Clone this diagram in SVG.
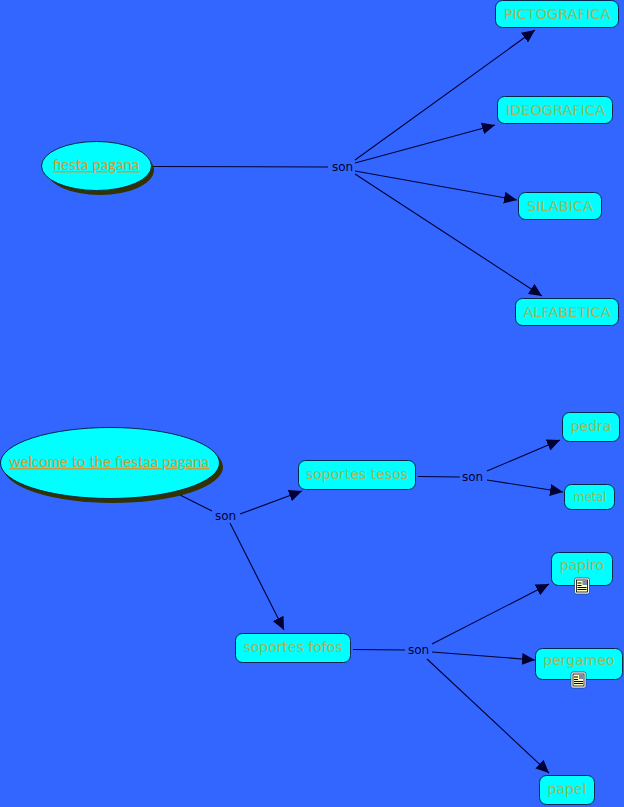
<svg xmlns="http://www.w3.org/2000/svg" width="624" height="807" viewBox="0 0 624 807">
<style>
.n{fill:#00ffff;stroke:#06264a;stroke-width:1}
.s{fill:#333300;stroke:none}
.t{font-family:"DejaVu Sans",Verdana,sans-serif;font-size:14.500px;fill:#9fb75c;text-anchor:middle}
.lc{font-size:14px}
.e{font-family:"Lato","Open Sans",sans-serif;font-size:15px;fill:#c8a03c;text-anchor:middle;text-decoration:underline}
.l{font-family:"DejaVu Sans",Verdana,sans-serif;font-size:12px;fill:#000033;text-anchor:middle}
.c{fill:none;stroke:#000033;stroke-width:1.100;marker-end:url(#a)}
.p{fill:none;stroke:#000033;stroke-width:1.100}
.ib{fill:#fff;stroke:#1a3a6a;stroke-width:.7}
.id{fill:#ffffc0;stroke:#000;stroke-width:.8}
.il{stroke:#000;stroke-width:1}
</style>
<defs>
<marker id="a" viewBox="0 0 13 12" refX="13" refY="6" markerWidth="13" markerHeight="12" markerUnits="userSpaceOnUse" orient="auto"><path d="M0 0L13 6L0 12Z" fill="#000033"/></marker>
<g id="doc"><rect class="ib" x="0" y="0" width="15" height="16" rx="2"/><rect class="id" x="2" y="2" width="11" height="12"/><rect x="8" y="2.500" width="4.500" height="4.500" fill="#7a8aa8"/><path class="il" d="M3 5H7M3 7.500H7M3 9.500H12M3 11.500H12"/></g>
</defs>
<rect width="624" height="807" fill="#3366ff"/>
<g id="connectors">
<path class="p" d="M153 166.500L328 167"/>
<path class="c" d="M355 160L535 30"/>
<path class="c" d="M355 163L495 125"/>
<path class="c" d="M355 171L517 200"/>
<path class="c" d="M355 174L542 296"/>
<path class="p" d="M180 495L212 511"/>
<path class="c" d="M240 514L302 491"/>
<path class="c" d="M230 523L284 630"/>
<path class="p" d="M418 476.500L460 477"/>
<path class="c" d="M487 471L560 440"/>
<path class="c" d="M487 480L563 492"/>
<path class="p" d="M353 649.500L405 650"/>
<path class="c" d="M432 644L549 584"/>
<path class="c" d="M432 652L535 660"/>
<path class="c" d="M427 659L549 773"/>
</g>
<g id="label-1"><text class="l" x="342.500" y="171">son</text></g>
<g id="label-2"><text class="l" x="225.500" y="520">son</text></g>
<g id="label-3"><text class="l" x="472.500" y="481">son</text></g>
<g id="label-4"><text class="l" x="418.500" y="654">son</text></g>
<g id="fiesta"><ellipse class="s" cx="100" cy="170" rx="54" ry="25"/><ellipse class="n" cx="96.500" cy="166" rx="55" ry="24.500"/><text class="e" x="96" y="170">fiesta pagana</text></g>
<g id="welcome"><ellipse class="s" cx="113" cy="467" rx="110" ry="36"/><ellipse class="n" cx="110" cy="463" rx="109.500" ry="35.500"/><text class="e" x="109" y="467">welcome to the fiestaa pagana</text></g>
<g id="pictografica"><rect class="n" x="495.500" y="0.500" width="123" height="27" rx="7"/><text class="t" x="557" y="19">PICTOGRAFICA</text></g>
<g id="ideografica"><rect class="n" x="497.500" y="96.500" width="115" height="27" rx="7"/><text class="t" x="555.500" y="115">IDEOGRAFICA</text></g>
<g id="silabica"><rect class="n" x="518.500" y="192.500" width="83" height="27" rx="7"/><text class="t" x="560" y="211">SILABICA</text></g>
<g id="alfabetica"><rect class="n" x="515.500" y="298.500" width="103" height="27" rx="7"/><text class="t" x="567" y="317">ALFABETICA</text></g>
<g id="tesos"><rect class="n" x="298.500" y="460.500" width="117" height="29" rx="7"/><text class="t lc" x="357" y="479">soportes tesos</text></g>
<g id="fofos"><rect class="n" x="235.500" y="633.500" width="115" height="29" rx="7"/><text class="t lc" x="293" y="652">soportes fofos</text></g>
<g id="pedra"><rect class="n" x="562.500" y="412.500" width="57" height="29" rx="7"/><text class="t lc" x="591" y="431">pedra</text></g>
<g id="metal"><rect class="n" x="564.500" y="484.500" width="50" height="25" rx="7"/><text class="t" x="590" y="501" style="font-size:11.500px">metal</text></g>
<g id="papiro"><rect class="n" x="551.500" y="552.500" width="61" height="33" rx="7"/><text class="t lc" x="582" y="570">papiro</text><use href="#doc" x="574.500" y="578"/></g>
<g id="pergameo"><rect class="n" x="535.500" y="648.500" width="87" height="31" rx="7"/><text class="t lc" x="579" y="665">pergameo</text><use href="#doc" x="571" y="672"/></g>
<g id="papel"><rect class="n" x="539.500" y="775.500" width="55" height="29" rx="7"/><text class="t lc" x="567" y="794">papel</text></g>
</svg>
